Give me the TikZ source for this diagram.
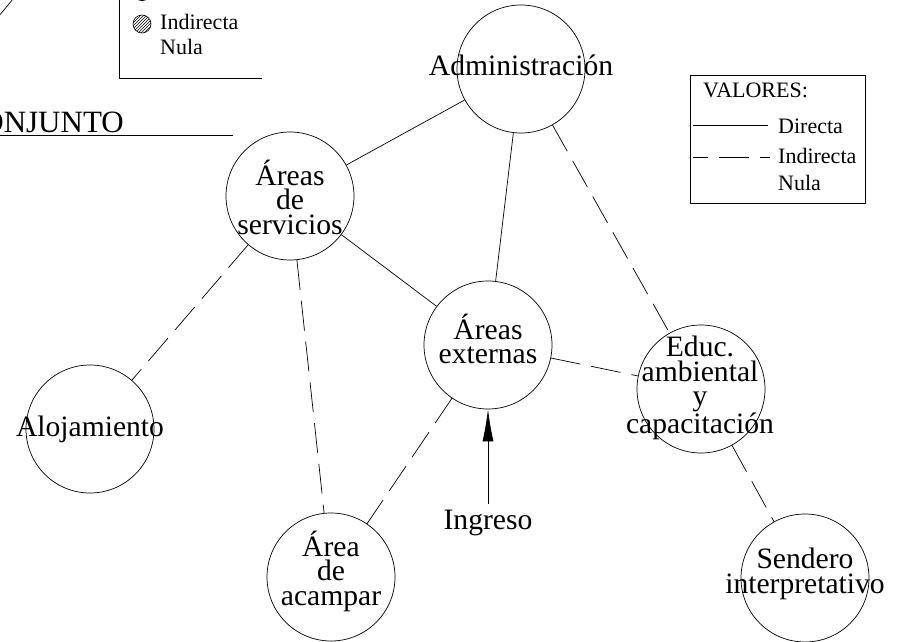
\documentclass[tikz,border=0pt]{standalone}
\usepackage{fontspec}
\setmainfont{Liberation Serif}
\usetikzlibrary{arrows.meta,patterns}

\begin{document}
\begin{tikzpicture}[x=1pt, y=-1pt, line cap=butt, line join=round,
  zona/.style={circle, draw, line width=0.7pt, minimum size=128pt, inner sep=0pt},
  rotulo/.style={align=center, font=\fontsize{29.6}{24.5}\selectfont, inner sep=0pt},
  leyenda/.style={font=\fontsize{22}{26}\selectfont, inner sep=0pt, anchor=base west},
  directa/.style={line width=0.7pt},
  indirecta/.style={line width=0.7pt, dash pattern=on 30pt off 11pt}]

% ----------------------------
% FRAME (pixels, y downwards)
% ----------------------------
\useasboundingbox (0,0) rectangle (897,642);

% ----------------------------
% LEFT LEGEND AND TITLE (cut by the frame)
% ----------------------------
\draw[indirecta] (-6,22) -- (18,-7);
\draw[line width=0.7pt] (119,-10) -- (119,78) -- (262,78);
\fill (142,-8) circle (9pt);
\draw[line width=0.6pt, pattern=north east lines] (142,24) circle (9pt);
\node[leyenda] (lindA) at (160,30) {Indirecta};
\node[leyenda] (lnulA) at (160,55) {Nula};

\node[font=\fontsize{31}{31}\selectfont, inner sep=0pt, anchor=base east]
  (titulo) at (124,132) {ONJUNTO};
\draw[line width=0.7pt] (0,135) -- (233,135);

% ----------------------------
% RIGHT LEGEND
% ----------------------------
\draw[line width=0.7pt] (690,75) rectangle (865,203);
\node[leyenda] (val)  at (703,98)  {VALORES:};
\node[leyenda] (ldir) at (778,133) {Directa};
\node[leyenda] (lind) at (778,163) {Indirecta};
\node[leyenda] (lnul) at (778,190) {Nula};
\draw[directa] (693,125) -- (768,125);
\draw[indirecta, dash phase=15pt] (693,157) -- (770,157);

% ----------------------------
% ZONES
% ----------------------------
\node[zona] (adm)  at (521,69)  {};
\node[zona] (serv) at (290,196) {};
\node[zona] (ext)  at (488,345) {};
\node[zona] (educ) at (701,389) {};
\node[zona] (aloj) at (90,429)  {};
\node[zona] (acam) at (331,577) {};
\node[zona] (send) at (805,578) {};

\node[rotulo] (admt)  at (521,65)  {Administración};
\node[rotulo] (servt) at (290,197) {Áreas\\de\\servicios};
\node[rotulo] (extt)  at (488,339) {Áreas\\externas};
\node[rotulo] (educt) at (700,388) {Educ.\\ambiental\\y\\capacitación};
\node[rotulo] (alojt) at (90,429)  {Alojamiento};
\node[rotulo] (acamt) at (331,571) {Área\\de\\acampar};
\node[rotulo] (sendt) at (805,574) {Sendero\\interpretativo};

\node[rotulo, inner sep=6pt] (ing) at (488,523) {Ingreso};

% ----------------------------
% RELATIONS
% ----------------------------
\draw[directa]   (adm)  -- (serv);
\draw[directa]   (adm)  -- (ext);
\draw[indirecta] (adm)  -- (educ);
\draw[directa]   (serv) -- (ext);
\draw[indirecta] (serv) -- (aloj);
\draw[indirecta] (serv) -- (acam);
\draw[indirecta] (ext)  -- (acam);
\draw[indirecta] (ext)  -- (educ);
\draw[indirecta] (educ) -- (send);

% access arrow
\draw[directa, -{Latex[length=32pt, width=11pt]}] (ing) -- (ext);

\end{tikzpicture}
\end{document}
